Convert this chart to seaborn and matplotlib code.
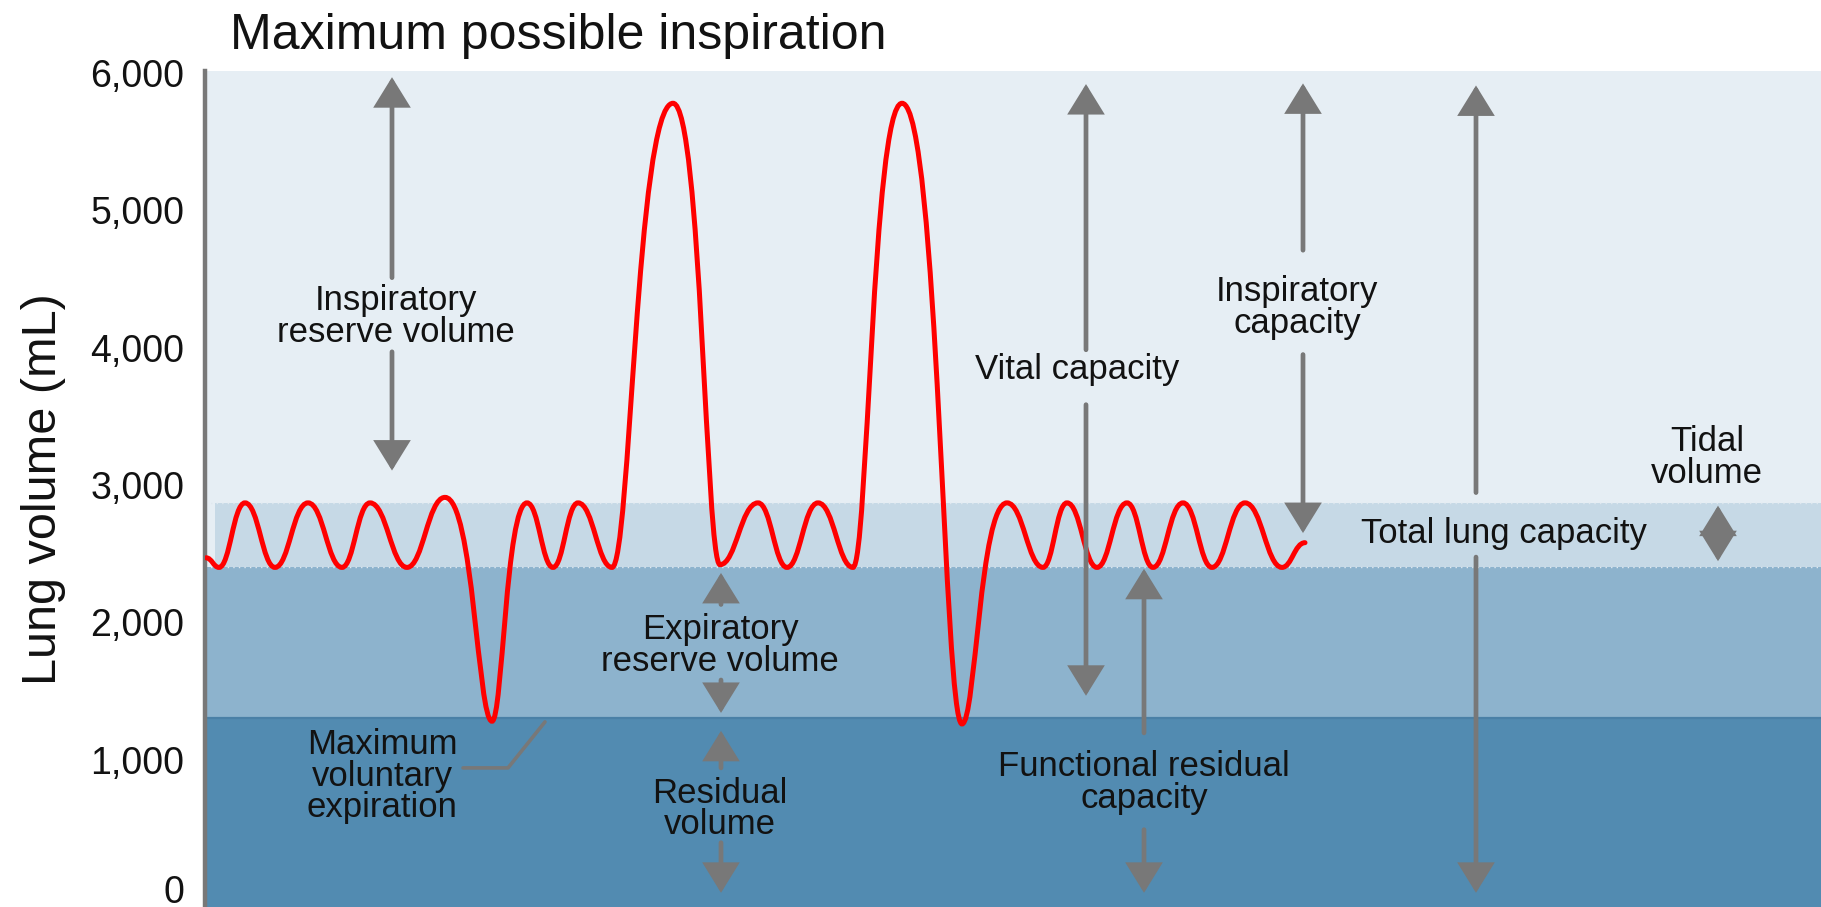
import matplotlib
matplotlib.use("Agg")
import matplotlib.pyplot as plt
from matplotlib.path import Path
from matplotlib.patches import PathPatch, FancyArrowPatch, ArrowStyle
from matplotlib.transforms import ScaledTranslation
import seaborn as sns

# ---------------- data ----------------
# breathing trace: turning points (time, volume mL)
trace_t = [0.01, 0.14, 0.40, 0.70, 1.03, 1.37, 1.65, 2.02, 2.40, 2.87, 3.22, 3.48,
           3.73, 4.07, 4.68, 5.15, 5.53, 5.82, 6.13, 6.48, 6.97, 7.57, 8.02, 8.38,
           8.62, 8.92, 9.22, 9.48, 9.78, 10.07, 10.40, 10.77, 11.00]
trace_v = [2470, 2400, 2870, 2400, 2870, 2400, 2870, 2400, 2910, 1280, 2870, 2400,
           2870, 2400, 5780, 2420, 2870, 2400, 2870, 2400, 5780, 1260, 2870, 2400,
           2870, 2400, 2870, 2400, 2870, 2400, 2870, 2400, 2580]

# volume levels (mL)
residual_top = 1300
frc_top = 2400
tidal_top = 2870

ytick_vals = [0, 1000, 2000, 3000, 4000, 5000, 6000]
ytick_labels = ["0", "1,000", "2,000", "3,000", "4,000", "5,000", "6,000"]

# colours
c_light = "#e6eef4"
c_tidal = "#c6d9e6"
c_mid = "#8db3cd"
c_dark = "#528bb1"
c_grey = "#787878"
c_red = "#ff0000"
c_text = "#121212"

# ---------------- figure ----------------
sns.set_style("white")
plt.rcParams["font.family"] = ["Liberation Sans", "DejaVu Sans"]

fig = plt.figure(figsize=(18.21, 9.07), dpi=100)
ax = fig.add_axes([205 / 1821, 0, 1 - 205 / 1821, 836 / 907])
ax.set_xlim(0, 16.16)
ax.set_ylim(-73, 6015)
ax.set_facecolor(c_light)

# volume bands
ax.axhspan(-200, residual_top, color=c_dark, lw=0, zorder=0)
ax.axhspan(residual_top, frc_top, color=c_mid, lw=0, zorder=0)
ax.axhspan(frc_top, tidal_top, xmin=0.1 / 16.16, color=c_tidal, lw=0, zorder=0)
ax.axhline(residual_top, color="#4a80a6", lw=1.6, zorder=1)
for lvl in [frc_top, tidal_top]:
    ax.axhline(lvl, color="#dfe8ef", lw=1.0, ls=(0, (1, 3)), zorder=1)

# breathing trace as smooth bezier segments between turning points
# (big excursions: broad rounded top, tighter bend at the low end)
verts = [(trace_t[0], trace_v[0])]
codes = [Path.MOVETO]
for t0, v0, t1, v1 in zip(trace_t[:-1], trace_v[:-1], trace_t[1:], trace_v[1:]):
    dt = t1 - t0
    if abs(v1 - v0) > 1000:
        k_hi, k_lo = 0.6, 0.3
    else:
        k_hi, k_lo = 0.45, 0.42
    k0 = k_hi if v0 > v1 else k_lo
    k1 = k_hi if v1 > v0 else k_lo
    verts += [(t0 + k0 * dt, v0), (t1 - k1 * dt, v1), (t1, v1)]
    codes += [Path.CURVE4] * 3
ax.add_patch(PathPatch(Path(verts, codes), fill=False, edgecolor=c_red,
                       lw=3.6, capstyle="round", zorder=3))

# arrows
head = ArrowStyle("-|>", head_length=17, head_width=10.5)


def arrow(t, v_from, v_to):
    ax.add_patch(FancyArrowPatch((t, v_from), (t, v_to), arrowstyle=head,
                                 mutation_scale=1, shrinkA=0, shrinkB=3,
                                 color=c_grey, lw=3.4, joinstyle="miter", zorder=4))


# inspiratory reserve volume
arrow(1.87, 4510, 6000)
arrow(1.87, 3970, 3075)
# expiratory reserve volume
arrow(5.16, 2130, 2390)
arrow(5.16, 1580, 1310)
# residual volume
arrow(5.16, 940, 1240)
arrow(5.16, 395, 0)
# vital capacity
arrow(8.81, 3985, 5950)
arrow(8.81, 3585, 1435)
# functional residual capacity
arrow(9.39, 1195, 2420)
arrow(9.39, 490, 0)
# inspiratory capacity
arrow(10.98, 4710, 5955)
arrow(10.98, 3950, 2620)
# total lung capacity
arrow(12.71, 2945, 5940)
arrow(12.71, 2475, 0)
# tidal volume
arrow(15.13, 2650, 2880)
arrow(15.13, 2650, 2415)

# leader line for maximum voluntary expiration
sns.lineplot(x=[2.58, 3.03, 3.40], y=[940, 940, 1275], sort=False, ax=ax,
             color=c_grey, lw=2.6, zorder=4)

# labels
lab = dict(fontsize=25, color=c_text, ha="center", va="center",
           linespacing=0.95, zorder=5)
ax.text(1.91, 4225, "Inspiratory\nreserve volume", **lab)
ax.text(5.15, 1830, "Expiratory\nreserve volume", **lab)
ax.text(5.15, 640, "Residual\nvolume", **lab)
ax.text(1.77, 880, "Maximum\nvoluntary\nexpiration", **lab)
ax.text(8.72, 3840, "Vital capacity", **lab)
ax.text(10.92, 4295, "Inspiratory\ncapacity", **lab)
ax.text(12.99, 2650, "Total lung capacity", **lab)
ax.text(15.02, 3200, "Tidal\nvolume", **lab)
ax.text(9.39, 835, "Functional residual\ncapacity", **lab)

fig.text(230 / 1821, 1 - 49 / 907, "Maximum possible inspiration",
         fontsize=36, color=c_text, ha="left", va="baseline")

# axes styling
ax.set_xticks([])
ax.set_yticks(ytick_vals)
ax.set_yticklabels(ytick_labels)
ax.tick_params(axis="y", direction="in", length=38, width=3, color=c_grey,
               pad=15, labelsize=27, labelcolor=c_text)
# the "0" sits right on the bottom edge; lift it a touch so it stays whole
zero_lbl = ax.get_yticklabels()[0]
zero_lbl.set_transform(zero_lbl.get_transform() + ScaledTranslation(0, 6 / 72, fig.dpi_scale_trans))
for side in ["top", "right", "bottom"]:
    ax.spines[side].set_visible(False)
ax.spines["left"].set_color(c_grey)
ax.spines["left"].set_linewidth(3.2)
ax.set_ylabel("Lung volume (mL)", fontsize=35, color=c_text, va="center")
ax.yaxis.set_label_coords(-0.1, 0.5)

fig.savefig("out.png", dpi=100)
